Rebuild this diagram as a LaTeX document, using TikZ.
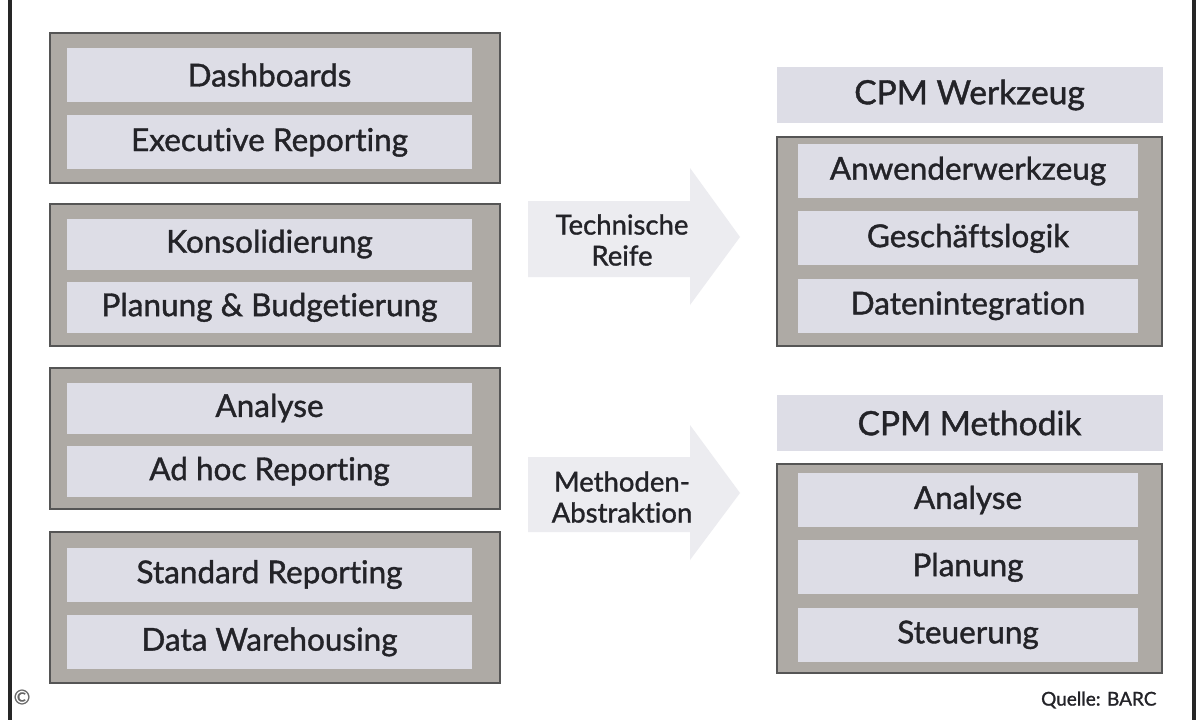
\documentclass[tikz,border=0pt]{standalone}
\usepackage{fontspec}
\setmainfont{Lato}[Ligatures=NoCommon, FakeBold=1.2, BoldFont=Lato]
\usetikzlibrary{positioning}
\definecolor{grau}{RGB}{174,170,165}
\definecolor{lila}{RGB}{221,221,230}
\definecolor{pfeil}{RGB}{236,236,240}
\definecolor{rand}{RGB}{85,85,85}
\definecolor{schrift}{RGB}{35,35,40}
\begin{document}
\begin{tikzpicture}[x=1pt, y=-1pt, node distance={13pt},
  gruppe/.style={draw=rand, line width=1.8pt, fill=grau, inner sep=0pt},
  feld/.style={fill=lila, minimum width=405pt, minimum height=54pt, inner sep=0pt, text=schrift, font=\bfseries\fontsize{31.5}{34}\selectfont},
  rfeld/.style={feld, minimum width=340pt},
  kopf/.style={fill=lila, minimum width=386pt, minimum height=56pt, inner sep=0pt, text=schrift, font=\bfseries\fontsize{33.5}{38}\selectfont},
  etikett/.style={align=center, text=schrift, font=\bfseries\fontsize{27.5}{31}\selectfont}]

\useasboundingbox (0,0) rectangle (1200,720);
\fill[white] (0,0) rectangle (1200,720);
\draw[line width=3.5pt, black!85] (10,0) -- (10,720);
\draw[line width=3.5pt, black!85] (1194,0) -- (1194,720);

\node (g1) [gruppe, minimum width=450pt, minimum height=150pt] at (275,108) {};
\node (dash) [feld] at (269.5,75) {Dashboards};
\node (exec) [feld, below=of dash] {Executive Reporting};

\node (g2) [gruppe, minimum width=450pt, minimum height=142pt] at (275,275) {};
\node (kons) [feld, minimum height=51pt] at (269.5,244) {Konsolidierung};
\node (plan) [feld, minimum height=51pt, below=12pt of kons] {Planung \& Budgetierung};

\node (g3) [gruppe, minimum width=450pt, minimum height=141pt] at (275,438.5) {};
\node (anal) [feld, minimum height=51pt] at (269.5,408) {Analyse};
\node (adhoc) [feld, minimum height=51pt, below=12pt of anal] {Ad hoc Reporting};

\node (g4) [gruppe, minimum width=450pt, minimum height=151pt] at (275,607.5) {};
\node (std) [feld] at (269.5,574.5) {Standard Reporting};
\node (dwh) [feld, below=of std] {Data Warehousing};

\fill[pfeil] (528,201) -- (690,201) -- (690,168) -- (740,237) -- (690,305) -- (690,277) -- (528,277) -- cycle;
\node (reife) [etikett] at (622,240) {Technische\\Reife};
\fill[pfeil] (528,457) -- (690,457) -- (690,425) -- (740,493) -- (690,560) -- (690,532) -- (528,532) -- cycle;
\node (abstr) [etikett] at (622,497) {Methoden-\\Abstraktion};

\node (wkz) [kopf] at (969.5,95) {CPM Werkzeug};
\node (g5) [gruppe, minimum width=385pt, minimum height=209pt] at (969.5,241.5) {};
\node (anw) [rfeld] at (968,171) {Anwenderwerkzeug};
\node (gesch) [rfeld, below=of anw] {Geschäftslogik};
\node (daten) [rfeld, below=of gesch] {Datenintegration};

\node (meth) [kopf] at (969.5,423) {CPM Methodik};
\node (g6) [gruppe, minimum width=385pt, minimum height=209pt] at (969.5,568.5) {};
\node (ranal) [rfeld] at (968,500) {Analyse};
\node (rplan) [rfeld, below=of ranal] {Planung};
\node (steu) [rfeld, below=of rplan] {Steuerung};

\node (copy) [text=black!60, font=\fontsize{20}{24}\selectfont] at (22,697) {©};
\node (quelle) [anchor=east, text=schrift, font=\bfseries\fontsize{19}{22}\selectfont] at (1160,700) {Quelle: BARC};
\end{tikzpicture}
\end{document}
